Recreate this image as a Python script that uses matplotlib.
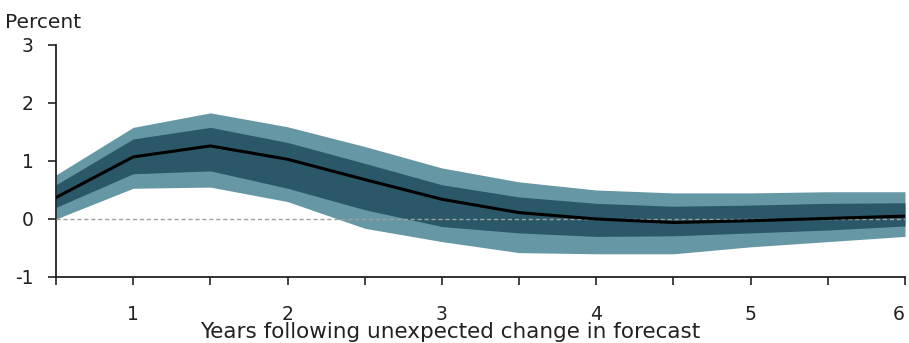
import matplotlib
matplotlib.use('Agg')
import matplotlib.pyplot as plt
import numpy as np

# Years after the shock and the fan-chart bands (percent)
years = [0.5, 1.0, 1.5, 2.0, 2.5, 3.0, 3.5, 4.0, 4.5, 5.0, 5.5, 6.0]
central = [0.37, 1.07, 1.26, 1.03, 0.68, 0.34, 0.11, 0.0, -0.06, -0.03, 0.01, 0.05]
inner_upper = [0.59, 1.38, 1.58, 1.32, 0.96, 0.59, 0.38, 0.27, 0.22, 0.24, 0.27, 0.28]
inner_lower = [0.20, 0.78, 0.83, 0.53, 0.16, -0.13, -0.24, -0.30, -0.29, -0.24, -0.19, -0.12]
outer_upper = [0.76, 1.58, 1.83, 1.59, 1.25, 0.88, 0.64, 0.50, 0.45, 0.45, 0.47, 0.47]
outer_lower = [0.00, 0.53, 0.55, 0.30, -0.16, -0.39, -0.58, -0.60, -0.60, -0.48, -0.39, -0.30]

y_ticks = [-1, 0, 1, 2, 3]
x_ticks = [0.5, 1, 1.5, 2, 2.5, 3, 3.5, 4, 4.5, 5, 5.5, 6]
x_labels = ['', '1', '', '2', '', '3', '', '4', '', '5', '', '6']

plt.rcParams['font.family'] = ['DejaVu Sans']
plt.rcParams['axes.unicode_minus'] = False

fig = plt.figure(figsize=(9.09, 3.43), dpi=100)
ax = fig.add_axes([56 / 909, 1 - 277 / 343, 849 / 909, 232 / 343])

ax.fill_between(years, outer_lower, outer_upper, color='#6598a4', lw=0)
ax.fill_between(years, inner_lower, inner_upper, color='#2a5868', lw=0)
ax.axhline(0, color='#a0a0a0', lw=1, ls=(0, (3, 2)), zorder=3)
ax.plot(years, central, color='black', lw=2.2, zorder=4)

ax.set_xlim(0.5, 6)
ax.set_ylim(-1, 3)
ax.set_xticks(x_ticks)
ax.set_xticklabels(x_labels)
ax.set_yticks(y_ticks)
ax.set_yticklabels([str(v) for v in y_ticks])

# last label sits at the right edge, keep it inside the picture
ax.get_xticklabels()[-1].set_horizontalalignment('right')

for side in ['top', 'right']:
    ax.spines[side].set_visible(False)
for side in ['left', 'bottom']:
    ax.spines[side].set_linewidth(1.3)
    ax.spines[side].set_color('#222222')

ax.tick_params(axis='x', direction='out', length=6, width=1.2,
               pad=14, labelsize=13.5, colors='#222222')
ax.tick_params(axis='y', direction='out', length=6, width=1.2,
               pad=10, labelsize=13.5, colors='#222222')

fig.text(5 / 909, 1 - 22 / 343, 'Percent', fontsize=14.5, va='center',
         ha='left', color='#222222')
fig.text(450 / 909, 1 - 332 / 343, 'Years following unexpected change in forecast',
         fontsize=15.5, va='center', ha='center', color='#222222')

fig.savefig('out.png', dpi=100)
